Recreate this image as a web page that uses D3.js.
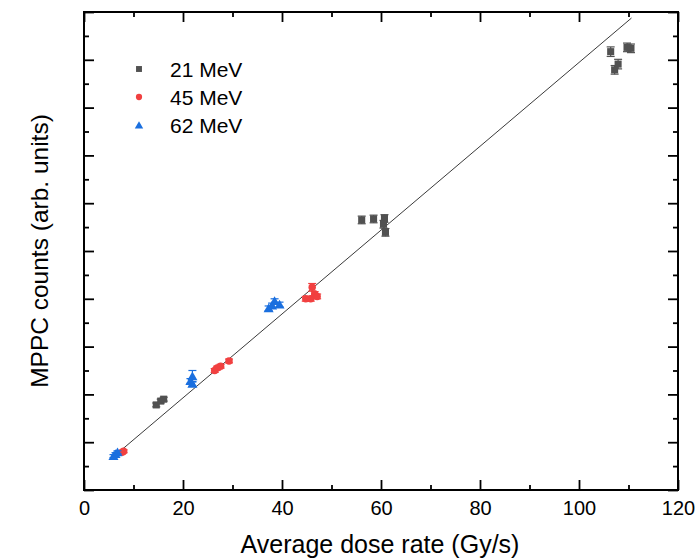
<!DOCTYPE html>
<html>
<head>
<meta charset="utf-8">
<script src="https://cdn.jsdelivr.net/npm/d3@7"></script>
<style>
  html, body { margin: 0; padding: 0; background: #fff; }
  svg { display: block; font-family: "Liberation Sans", Arial, sans-serif; }
</style>
</head>
<body>
<svg id="chart" width="695" height="558"></svg>
<script>
// Dose rate (Gy/s) and MPPC counts (arb. units) per beam energy
const dose21   = [14.6, 15.5, 16.1, 56.1, 58.5, 60.7, 60.5, 60.9, 106.4, 109.7, 110.5, 107.9, 107.2];
const counts21 = [1.78, 1.86, 1.90, 5.65, 5.67, 5.68, 5.56, 5.39, 9.17, 9.26, 9.24, 8.91, 8.79];
const err21    = [0.04, 0.04, 0.04, 0.08, 0.08, 0.08, 0.08, 0.08, 0.10, 0.09, 0.09, 0.10, 0.09];

const dose45   = [7.7, 8.0, 26.4, 26.9, 27.6, 29.3, 44.8, 45.8, 46.1, 46.6, 47.1];
const counts45 = [0.79, 0.81, 2.50, 2.55, 2.59, 2.70, 4.00, 4.00, 4.24, 4.10, 4.05];
const err45    = [0.03, 0.03, 0.04, 0.04, 0.04, 0.04, 0.05, 0.05, 0.08, 0.05, 0.05];

const dose62   = [5.96, 6.36, 6.77, 21.9, 21.5, 21.9, 37.3, 38.0, 38.5, 39.5];
const counts62 = [0.71, 0.75, 0.79, 2.38, 2.28, 2.22, 3.80, 3.86, 3.95, 3.88];
const err62    = [0.03, 0.03, 0.03, 0.12, 0.05, 0.05, 0.05, 0.05, 0.05, 0.05];

const seriesNames  = ["21 MeV", "45 MeV", "62 MeV"];
const seriesColors = ["#515151", "#F14040", "#1A6FDF"];

// Linear fit through all points
const fitSlope = 0.0877;
const fitIntercept = 0.174;
const fitRange = [5.9, 110.6];

const xMajor = [0, 20, 40, 60, 80, 100, 120];
const xMinor = [10, 30, 50, 70, 90, 110];
const yMajor = [0, 1, 2, 3, 4, 5, 6, 7, 8, 9, 10];
const yMinor = [0.5, 1.5, 2.5, 3.5, 4.5, 5.5, 6.5, 7.5, 8.5, 9.5];

const svg = d3.select("#chart");
const L = 84, R = 678, T = 12, B = 490;

const x = d3.scaleLinear().domain([0, 120]).range([L, R]);
const y = d3.scaleLinear().domain([0, 10]).range([B, T]);

// Axes: ticks point inward on all four sides
function styleAxis(g) {
  g.select(".domain").remove();
  g.selectAll(".tick line").attr("stroke", "#000").attr("stroke-width", 1.8);
}
svg.append("g").attr("transform", `translate(0,${B})`)
  .call(d3.axisBottom(x).tickValues(xMajor).tickSizeInner(-10).tickSizeOuter(0).tickFormat(d3.format("d")))
  .call(styleAxis)
  .call(g => g.selectAll(".tick text").attr("font-size", 20).attr("fill", "#000")
    .attr("font-family", "Liberation Sans, Arial, sans-serif").attr("dy", "0.71em").attr("y", 11));
svg.append("g").attr("transform", `translate(0,${B})`)
  .call(d3.axisBottom(x).tickValues(xMinor).tickSizeInner(-5).tickSizeOuter(0).tickFormat(""))
  .call(styleAxis);
svg.append("g").attr("transform", `translate(0,${T})`)
  .call(d3.axisTop(x).tickValues(xMajor).tickSizeInner(-10).tickSizeOuter(0).tickFormat(""))
  .call(styleAxis);
svg.append("g").attr("transform", `translate(0,${T})`)
  .call(d3.axisTop(x).tickValues(xMinor).tickSizeInner(-5).tickSizeOuter(0).tickFormat(""))
  .call(styleAxis);
svg.append("g").attr("transform", `translate(${L},0)`)
  .call(d3.axisLeft(y).tickValues(yMajor).tickSizeInner(-10).tickSizeOuter(0).tickFormat(""))
  .call(styleAxis);
svg.append("g").attr("transform", `translate(${L},0)`)
  .call(d3.axisLeft(y).tickValues(yMinor).tickSizeInner(-5).tickSizeOuter(0).tickFormat(""))
  .call(styleAxis);
svg.append("g").attr("transform", `translate(${R},0)`)
  .call(d3.axisRight(y).tickValues(yMajor).tickSizeInner(-10).tickSizeOuter(0).tickFormat(""))
  .call(styleAxis);
svg.append("g").attr("transform", `translate(${R},0)`)
  .call(d3.axisRight(y).tickValues(yMinor).tickSizeInner(-5).tickSizeOuter(0).tickFormat(""))
  .call(styleAxis);

// Frame
svg.append("rect")
  .attr("x", L).attr("y", T).attr("width", R - L).attr("height", B - T)
  .attr("fill", "none").attr("stroke", "#000").attr("stroke-width", 2);

// Axis titles
svg.append("text")
  .attr("x", (L + R) / 2 - 1).attr("y", 553)
  .attr("text-anchor", "middle").attr("font-size", 25).attr("fill", "#000")
  .text("Average dose rate (Gy/s)");
svg.append("text")
  .attr("transform", `translate(48,${(T + B) / 2}) rotate(-90)`)
  .attr("text-anchor", "middle").attr("font-size", 24.5).attr("fill", "#000")
  .text("MPPC counts (arb. units)");

// Fit line
svg.append("line")
  .attr("x1", x(fitRange[0])).attr("y1", y(fitIntercept + fitSlope * fitRange[0]))
  .attr("x2", x(fitRange[1])).attr("y2", y(fitIntercept + fitSlope * fitRange[1]))
  .attr("stroke", "#3a3a3a").attr("stroke-width", 1);

// Data series
const symbols = [d3.symbolSquare, d3.symbolCircle, d3.symbolTriangle];
const symbolSizes = [50, 44, 44];
const seriesData = [
  d3.zip(dose21, counts21, err21),
  d3.zip(dose45, counts45, err45),
  d3.zip(dose62, counts62, err62)
];

seriesData.forEach((pts, i) => {
  const color = seriesColors[i];
  const g = svg.append("g");
  // error bars with caps
  const eb = g.selectAll("g.eb").data(pts).join("g");
  eb.append("line")
    .attr("x1", d => x(d[0])).attr("x2", d => x(d[0]))
    .attr("y1", d => y(d[1] - d[2])).attr("y2", d => y(d[1] + d[2]))
    .attr("stroke", color).attr("stroke-width", 1.2);
  [1, -1].forEach(s => {
    eb.append("line")
      .attr("x1", d => x(d[0]) - 4).attr("x2", d => x(d[0]) + 4)
      .attr("y1", d => y(d[1] + s * d[2])).attr("y2", d => y(d[1] + s * d[2]))
      .attr("stroke", color).attr("stroke-width", 1.2);
  });
  const sym = d3.symbol().type(symbols[i]).size(symbolSizes[i]);
  g.selectAll("path.pt").data(pts).join("path")
    .attr("class", "pt")
    .attr("transform", d => `translate(${x(d[0])},${y(d[1]) + (i === 2 ? 1 : 0)})`)
    .attr("d", sym)
    .attr("fill", color);
});

// Legend
const legendY = [69, 97, 125];
const lg = svg.append("g");
seriesNames.forEach((name, i) => {
  lg.append("path")
    .attr("transform", `translate(139,${legendY[i] + (i === 2 ? 1 : 0)})`)
    .attr("d", d3.symbol().type(symbols[i]).size(symbolSizes[i] * 0.7))
    .attr("fill", seriesColors[i]);
  lg.append("text")
    .attr("x", 170).attr("y", legendY[i] + 8)
    .attr("font-size", 21).attr("fill", "#000")
    .text(name);
});
</script>
</body>
</html>
